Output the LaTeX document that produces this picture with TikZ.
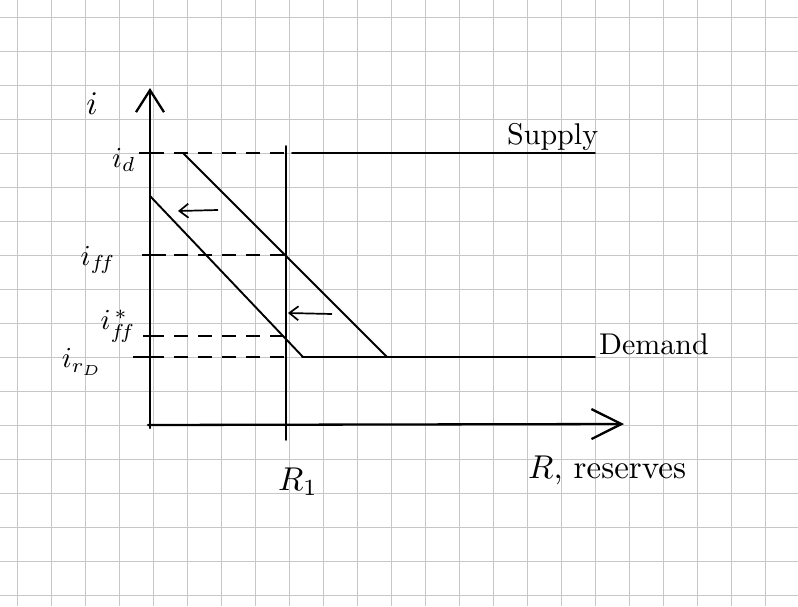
\documentclass[tikz,border=0pt]{standalone}
\usepackage{graphicx}
\usetikzlibrary{arrows.meta}
\newcommand{\bigtxt}[1]{\scalebox{3.0}{#1}}
\newcommand{\midtxt}[1]{\scalebox{2.9}{#1}}
\begin{document}
\begin{tikzpicture}[x=1pt,y=-1pt,
  gridline/.style={draw=black!22,line width=0.7pt},
  axisline/.style={line width=2.3pt,line cap=round},
  curve/.style={line width=1.9pt,line cap=round},
  guide/.style={line width=1.8pt,dash pattern=on 14pt off 10pt},
  tick/.style={line width=1.6pt},
  lbl/.style={inner sep=1pt},
  smallarrow/.style={line width=1.7pt,-{Straight Barb[length=9pt,width=14pt]}}]
\useasboundingbox (0,0) rectangle (798,606);
\fill[white] (0,0) rectangle (798,606);
% grid paper
\foreach \i in {0,...,23} \draw[gridline] (17+34*\i,0) -- (17+34*\i,606);
\foreach \j in {0,...,17} \draw[gridline] (0,17+34*\j) -- (798,17+34*\j);
% key points
\coordinate (O) at (148,425);
\coordinate (ybot) at (150,428);
\coordinate (ytop) at (150,88);
\coordinate (xend) at (624,424);
\coordinate (Rtop) at (286,146);
\coordinate (Rbot) at (286,440);
\coordinate (id) at (150,153);
\coordinate (iff) at (150,255);
\coordinate (iffs) at (150,336);
\coordinate (ior) at (150,357);
\coordinate (Rid) at (286,153);
\coordinate (Riff) at (286,255);
\coordinate (Riffs) at (286,336);
\coordinate (Rior) at (286,357);
\coordinate (sEnd) at (595,153);
\coordinate (sStart) at (292,153);
\coordinate (dEnd) at (595,357);
\coordinate (dStart) at (302,357);
\coordinate (d1a) at (183,153);
\coordinate (d1b) at (387,357);
\coordinate (d2a) at (150,196);
\coordinate (d2b) at (303,357);
\coordinate (a1s) at (218,210);
\coordinate (a1e) at (178,211);
\coordinate (a2s) at (332,314);
\coordinate (a2e) at (288,313);
% axes
\draw[axisline,-{Straight Barb[length=22pt,width=28pt]}] (ybot) -- (ytop);
\draw[axisline,-{Straight Barb[length=30pt,width=30pt]}] (O) -- (xend);
\draw[curve] (Rtop) -- (Rbot);
% ticks
\draw[tick] (139,153) -- (163,153);
\draw[tick] (142,255) -- (166,255);
\draw[tick] (143,336) -- (160,336);
\draw[tick] (133,357) -- (158,357);
% guides
\draw[guide] (id) -- (Rid);
\draw[guide] (iff) -- (Riff);
\draw[guide] (iffs) -- (Riffs);
\draw[guide] (ior) -- (Rior);
% supply / demand horizontals
\draw[curve] (sStart) -- (sEnd);
\draw[curve] (dStart) -- (dEnd);
% demand curves
\draw[curve] (d1a) -- (d1b);
\draw[curve] (d2a) -- (d2b);
% shift arrows
\draw[smallarrow] (a1s) -- (a1e);
\draw[smallarrow] (a2s) -- (a2e);
% labels
\node[lbl] (li) at (92,104) {\scalebox{3.3}{$i$}};
\node[lbl] (lid) at (124,160) {\midtxt{$i_d$}};
\node[lbl] (liff) at (98,260) {\midtxt{$i_{f\!f}$}};
\node[lbl] (liffs) at (118,326) {\midtxt{$i_{f\!f}^{\,*}$}};
\node[lbl] (lior) at (82,362) {\midtxt{$i_{r_D}$}};
\node[lbl,anchor=west] (lsup) at (506,137) {\bigtxt{Supply}};
\node[lbl,anchor=west] (ldem) at (598,344) {\bigtxt{Demand}};
\node[lbl] (lR1) at (298,482) {\scalebox{3.3}{$R_1$}};
\node[lbl,anchor=west] (lR) at (527,470) {\scalebox{3.3}{$R$, reserves}};
\end{tikzpicture}
\end{document}
